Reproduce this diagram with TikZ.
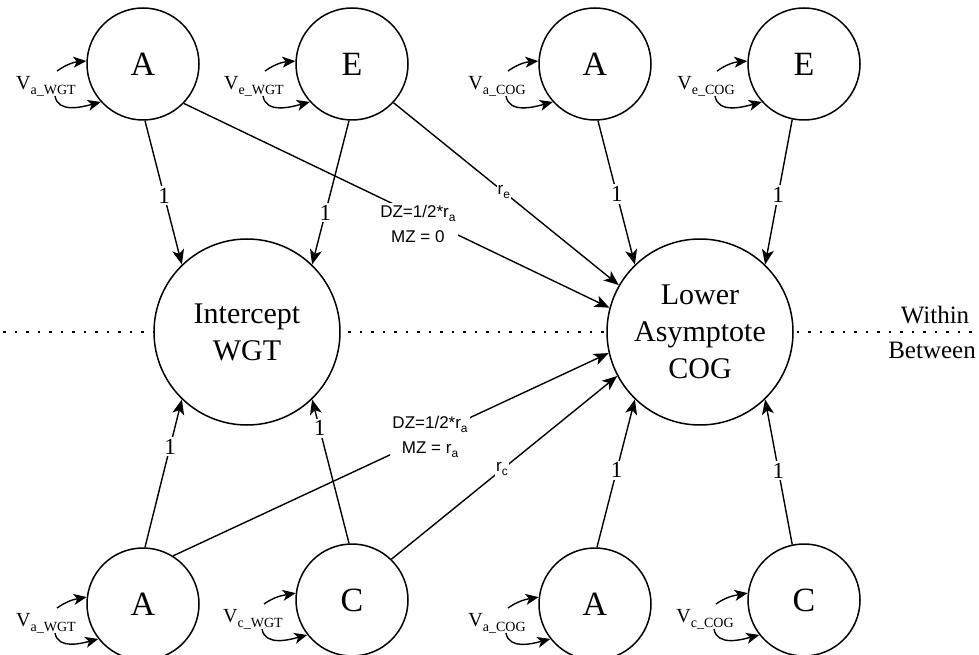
\documentclass[tikz,border=0pt]{standalone}
\usepackage{fontspec}
\setmainfont{Liberation Serif}
\newfontfamily\lsans{Liberation Sans}
\usetikzlibrary{arrows.meta,calc}
\newcommand\vsub[2]{{\fontsize{20}{20}\selectfont V}\raisebox{-5pt}{\fontsize{14}{14}\selectfont #1\_#2}}
\newcommand\rsub[1]{r\raisebox{-4pt}{\fontsize{12}{12}\selectfont #1}}
\begin{document}
\begin{tikzpicture}[x=1pt,y=1pt,
  lv/.style={circle,draw,line width=1.5pt,minimum size=112pt,inner sep=0pt,fill=white,font=\fontsize{34}{34}\selectfont},
  factor/.style={circle,draw,line width=1.5pt,minimum size=186pt,inner sep=0pt,fill=white,align=center,font=\fontsize{30}{37}\selectfont},
  arr/.style={line width=1.4pt,-{Stealth[length=15pt,width=12pt,inset=4pt]}},
  one/.style={fill=white,inner sep=2pt,font=\fontsize{23}{23}\selectfont},
  coef/.style={fill=white,inner sep=2pt,align=center,font=\lsans\fontsize{17}{25}\selectfont},
  vlab/.style={inner sep=0pt},
  selfarr/.style={line width=1.4pt,-{Stealth[length=13pt,width=11pt,inset=3.5pt]}},
  sepline/.style={line width=2.5pt,dash pattern=on 2.5pt off 9pt},
  sidetext/.style={inner sep=0pt,font=\fontsize{25}{25}\selectfont}]
\useasboundingbox (0,0) rectangle (979,654);

% within / between separator
\draw[sepline] (3,322) -- (975,322);
\node[sidetext] (within) at (935,339) {Within};
\node[sidetext] (between) at (932,304) {Between};

% factors
\node[factor] (int) at (247,322) {Intercept\\WGT};
\node[factor] (la) at (700,322) {Lower\\Asymptote\\COG};

% latent components
\node[lv] (a1) at (143,590) {A};
\node[lv] (e1) at (352,590) {E};
\node[lv] (a2) at (595,590) {A};
\node[lv] (e2) at (804,590) {E};
\node[lv] (a3) at (143,50) {A};
\node[lv] (c3) at (352,54) {C};
\node[lv] (a4) at (595,50) {A};
\node[lv] (c4) at (804,54) {C};

% variance labels
\node[vlab] (va1) at (46,568) {\vsub{a}{WGT}};
\node[vlab] (ve1) at (254,568) {\vsub{e}{WGT}};
\node[vlab] (va2) at (497,568) {\vsub{a}{COG}};
\node[vlab] (ve2) at (706,568) {\vsub{e}{COG}};
\node[vlab] (va3) at (46,31) {\vsub{a}{WGT}};
\node[vlab] (vc3) at (253,35) {\vsub{c}{WGT}};
\node[vlab] (va4) at (497,31) {\vsub{a}{COG}};
\node[vlab] (vc4) at (705,35) {\vsub{c}{COG}};

% variance arrows
\foreach \l/\c in {va1/a1,ve1/e1,va2/a2,ve2/e2}{
  \draw[selfarr] ($(\l)+(11,15)$) to[out=35,in=185] (\c.177);
  \draw[selfarr] ($(\l)+(9,-10)$) to[out=-80,in=195] (\c.222);
}
\foreach \l/\c in {va3/a3,vc3/c3,va4/a4,vc4/c4}{
  \draw[selfarr] ($(\l)+(11,15)$) to[out=35,in=190] (\c.173);
  \draw[selfarr] ($(\l)+(9,-10)$) to[out=-80,in=195] (\c.218);
}

% loadings
\draw[arr] (a1.272) -- node[one,pos=0.52] {1} (int.134);
\draw[arr] (e1.267) -- node[one,pos=0.64] {1} (int.46);
\draw[arr] (a2.273) -- node[one,pos=0.51] {1} (la.134);
\draw[arr] (e2.258) -- node[one,pos=0.52] {1} (la.46);
\draw[arr] (a3.88) -- node[one,pos=0.68] {1} (int.226);
\draw[arr] (c3.93) -- node[one,pos=0.8] {1} (int.314);
\draw[arr] (a4.88) -- node[one,pos=0.52] {1} (la.226);
\draw[arr] (c4.102) -- node[one,pos=0.51] {1} (la.314);

% cross paths
\draw[arr] (a1.316) -- node[coef,pos=0.55,yshift=-8pt] {DZ=1/2*\rsub{a}\\MZ = 0} (la.165);
\draw[arr] (e1.317) -- node[one,pos=0.49,inner sep=1pt,font=\lsans\fontsize{17}{17}\selectfont] {\rsub{e}} (la.150);
\draw[arr] (a3.58) -- node[coef,pos=0.59,yshift=-1pt] {DZ=1/2*\rsub{a}\\MZ = \rsub{a}} (la.193);
\draw[arr] (c3.46) -- node[one,pos=0.49,inner sep=1pt,font=\lsans\fontsize{17}{17}\selectfont] {\rsub{c}} (la.208);
\end{tikzpicture}
\end{document}
